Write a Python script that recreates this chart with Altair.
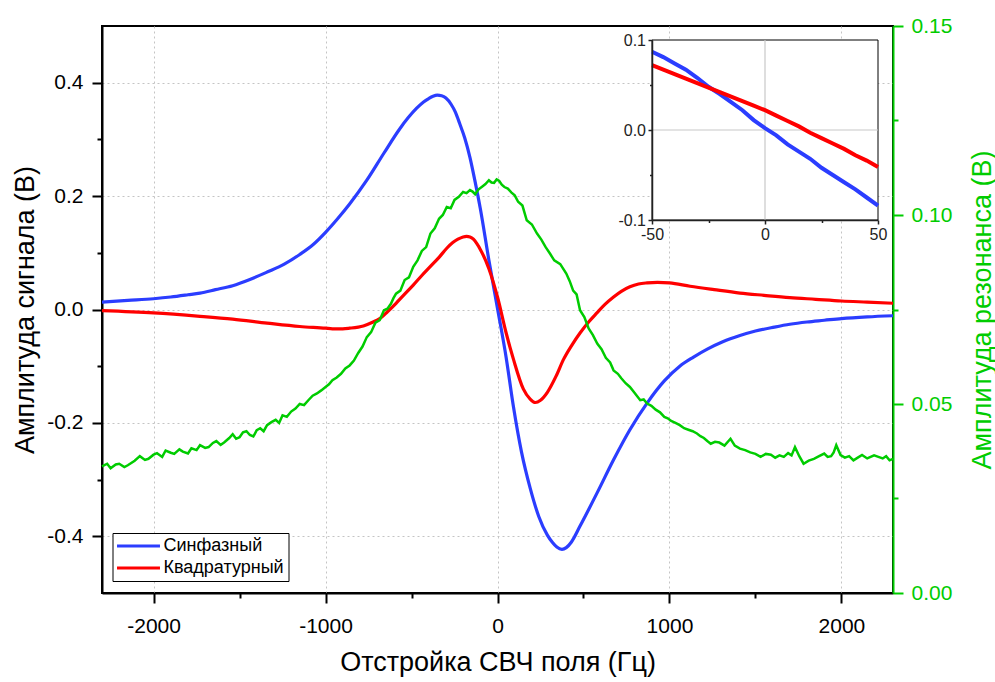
import altair as alt
import pandas as pd

series_names = ["Синфазный", "Квадратурный"]

blue_x = [-2300, -2150, -2000, -1900, -1800, -1730, -1640, -1540, -1440, -1340, -1240, -1150,
          -1070, -1000, -930, -860, -760, -660, -570, -520, -470, -430, -400, -375, -350, -325,
          -300, -270, -245, -220, -190, -160, -130, -100, -50, 0, 50, 93, 140, 190, 240, 290,
          320, 345, 375, 400, 430, 480, 580, 675, 770, 870, 970, 1060, 1140, 1220, 1310, 1410,
          1500, 1610, 1700, 1800, 1900, 2000, 2150, 2300]
blue_y = [0.013, 0.016, 0.019, 0.022, 0.026, 0.029, 0.035, 0.042, 0.053, 0.066, 0.080, 0.097,
          0.115, 0.136, 0.160, 0.186, 0.228, 0.276, 0.318, 0.338, 0.355, 0.366, 0.372, 0.376,
          0.378, 0.377, 0.373, 0.362, 0.348, 0.328, 0.302, 0.268, 0.225, 0.178, 0.087, 0.002,
          -0.084, -0.172, -0.252, -0.315, -0.365, -0.398, -0.411, -0.419, -0.423, -0.420, -0.410,
          -0.382, -0.323, -0.265, -0.212, -0.165, -0.126, -0.100, -0.084, -0.070, -0.057, -0.046,
          -0.038, -0.031, -0.026, -0.022, -0.019, -0.016, -0.013, -0.011]

red_x = [-2300, -2000, -1730, -1540, -1340, -1150, -1000, -960, -900, -860, -780, -730, -680,
         -640, -590, -540, -490, -440, -390, -340, -295, -260, -230, -200, -180, -160, -140, -120,
         -100, -50, 0, 50, 93, 150, 190, 220, 250, 290, 340, 384, 430, 481, 530, 578, 625, 675,
         720, 770, 820, 870, 930, 1000, 1120, 1260, 1410, 1550, 1700, 1850, 2000, 2150, 2300]
red_y = [-0.002, -0.006, -0.012, -0.017, -0.024, -0.030, -0.033, -0.034, -0.034, -0.033, -0.029,
         -0.023, -0.015, -0.004, 0.011, 0.027, 0.043, 0.060, 0.076, 0.092, 0.108, 0.118, 0.124,
         0.128, 0.129, 0.128, 0.124, 0.116, 0.106, 0.072, 0.022, -0.041, -0.088, -0.140, -0.158,
         -0.164, -0.160, -0.146, -0.118, -0.088, -0.064, -0.041, -0.022, -0.006, 0.009, 0.022,
         0.032, 0.040, 0.045, 0.047, 0.048, 0.047, 0.041, 0.035, 0.029, 0.025, 0.021, 0.018,
         0.015, 0.013, 0.011]

green_x = [-2300, -2270, -2250, -2220, -2200, -2170, -2150, -2110, -2080, -2050, -2030, -2000,
           -1980, -1950, -1930, -1900, -1880, -1850, -1830, -1800, -1780, -1750, -1730, -1700,
           -1680, -1655, -1635, -1610, -1590, -1560, -1540, -1520, -1500, -1480, -1460, -1440,
           -1420, -1400, -1380, -1360, -1340, -1315, -1290, -1270, -1250, -1225, -1200, -1175,
           -1150, -1125, -1100, -1075, -1050, -1025, -1000, -980, -960, -935, -910, -885, -860,
           -835, -810, -785, -760, -735, -710, -685, -660, -640, -620, -605, -590, -565, -540,
           -515, -490, -465, -440, -415, -390, -365, -340, -318, -295, -272, -250, -225, -200,
           -180, -160, -145, -130, -110, -90, -70, -50, -35, -20, -5, 10, 25, 40, 60, 80, 100,
           120, 145, 170, 200, 230, 255, 280, 305, 330, 365, 400, 420, 440, 460, 480, 505, 530,
           555, 580, 605, 630, 655, 675, 700, 720, 745, 770, 800, 830, 850, 870, 895, 920, 945,
           970, 990, 1010, 1035, 1060, 1085, 1110, 1135, 1160, 1180, 1200, 1220, 1240, 1265, 1290,
           1320, 1355, 1380, 1410, 1440, 1470, 1500, 1530, 1560, 1590, 1615, 1640, 1665, 1690,
           1710, 1730, 1755, 1780, 1810, 1840, 1870, 1900, 1920, 1940, 1955, 1970, 1995, 2020,
           2045, 2070, 2095, 2120, 2150, 2190, 2215, 2240, 2260, 2280, 2300]
green_y = [0.0335, 0.0342, 0.0330, 0.0340, 0.0342, 0.0333, 0.0338, 0.0350, 0.0362, 0.0352,
           0.0355, 0.0366, 0.0370, 0.0360, 0.0377, 0.0371, 0.0368, 0.0380, 0.0374, 0.0369,
           0.0383, 0.0378, 0.0391, 0.0384, 0.0386, 0.0397, 0.0402, 0.0392, 0.0398, 0.0410,
           0.0420, 0.0408, 0.0412, 0.0425, 0.0428, 0.0418, 0.0414, 0.0431, 0.0436, 0.0428,
           0.0444, 0.0452, 0.0458, 0.0450, 0.0470, 0.0466, 0.0480, 0.0488, 0.0500, 0.0497,
           0.0510, 0.0522, 0.0528, 0.0536, 0.0545, 0.0552, 0.0563, 0.0570, 0.0580, 0.0594,
           0.0602, 0.0615, 0.0635, 0.0652, 0.0677, 0.0690, 0.0715, 0.0722, 0.0748, 0.0752,
           0.0765, 0.0780, 0.0792, 0.0800, 0.0828, 0.0835, 0.0863, 0.0880, 0.0905, 0.0915,
           0.0951, 0.0965, 0.0990, 0.1000, 0.1021, 0.1018, 0.1040, 0.1048, 0.1061, 0.1058,
           0.1066, 0.1062, 0.1055, 0.1068, 0.1075, 0.1082, 0.1092, 0.1086, 0.1085, 0.1094,
           0.1090, 0.1080, 0.1074, 0.1070, 0.1060, 0.1052, 0.1035, 0.1025, 0.0986, 0.0975,
           0.0951, 0.0935, 0.0915, 0.0898, 0.0880, 0.0870, 0.0845, 0.0825, 0.0800, 0.0790,
           0.0748, 0.0730, 0.0700, 0.0682, 0.0660, 0.0645, 0.0622, 0.0610, 0.0589, 0.0580,
           0.0568, 0.0555, 0.0545, 0.0528, 0.0510, 0.0512, 0.0501, 0.0495, 0.0485, 0.0478,
           0.0466, 0.0462, 0.0455, 0.0450, 0.0444, 0.0436, 0.0432, 0.0428, 0.0422, 0.0415,
           0.0410, 0.0402, 0.0395, 0.0400, 0.0398, 0.0390, 0.0408, 0.0390, 0.0382, 0.0378,
           0.0372, 0.0368, 0.0360, 0.0368, 0.0366, 0.0358, 0.0364, 0.0360, 0.0370, 0.0364,
           0.0386, 0.0362, 0.0342, 0.0350, 0.0355, 0.0362, 0.0369, 0.0360, 0.0362, 0.0372,
           0.0391, 0.0365, 0.0358, 0.0362, 0.0351, 0.0358, 0.0365, 0.0356, 0.0364, 0.0360,
           0.0356, 0.0362, 0.0351, 0.0355]

inset_x = [-50, -45, -40, -35, -30, -25, -20, -15, -10, -5, 0, 5, 10, 15, 20, 25, 30, 35, 40, 45, 50]
inset_blue = [0.087, 0.081, 0.074, 0.067, 0.058, 0.048, 0.040, 0.031, 0.022, 0.011, 0.002,
              -0.006, -0.016, -0.024, -0.032, -0.042, -0.050, -0.058, -0.066, -0.075, -0.084]
inset_red = [0.072, 0.067, 0.062, 0.057, 0.052, 0.047, 0.042, 0.037, 0.032, 0.027, 0.022,
             0.016, 0.010, 0.004, -0.003, -0.009, -0.015, -0.021, -0.028, -0.034, -0.041]

x_domain = [-2300, 2300]
x_ticks = [-2000, -1500, -1000, -500, 0, 500, 1000, 1500, 2000]
y_left_domain = [-0.5, 0.5]
y_left_ticks = [-0.4, -0.3, -0.2, -0.1, 0.0, 0.1, 0.2, 0.3, 0.4]
y_right_domain = [0.0, 0.15]
y_right_ticks = [0.0, 0.025, 0.05, 0.075, 0.1, 0.125, 0.15]
inset_x_domain = [-50, 50]
inset_x_ticks = [-50, -25, 0, 25, 50]
inset_y_domain = [-0.1, 0.1]
inset_y_ticks = [-0.1, -0.05, 0.0, 0.05, 0.1]

x_title = "Отстройка СВЧ поля (Гц)"
y_left_title = "Амплитуда сигнала (В)"
y_right_title = "Амплитуда резонанса (В)"

BLUE = "#2b3dff"
RED = "#ff0000"
GREEN = "#00cc00"
FONT = "Liberation Sans"
W, H = 791, 567
MINUS = "\u2212"


def cond(test, a, b):
    return {"condition": {"test": test, "value": a}, "value": b}


def lab(test):
    return f"({test}) ? replace(datum.label, '{MINUS}', '-') : ''"


main_df = pd.concat([
    pd.DataFrame({"x": blue_x, "y": blue_y, "s": series_names[0]}),
    pd.DataFrame({"x": red_x, "y": red_y, "s": series_names[1]}),
])
green_df = pd.DataFrame({"x": green_x, "y": green_y})
inset_df = pd.DataFrame({"ix": inset_x, "b": inset_blue, "r": inset_red})
box_df = pd.DataFrame({"x0": [inset_x_domain[0]], "x1": [inset_x_domain[1]],
                       "y0": [inset_y_domain[0]], "y1": [inset_y_domain[1]], "z": [0]})

xs = alt.Scale(domain=x_domain, nice=False, zero=False)
yls = alt.Scale(domain=y_left_domain, nice=False, zero=False)
yrs = alt.Scale(domain=y_right_domain, nice=False, zero=False)
ixs = alt.Scale(domain=inset_x_domain, nice=False, zero=False, range=[550, 776])
iys = alt.Scale(domain=inset_y_domain, nice=False, zero=False, range=[194, 14])

tx = "datum.value % 1000 === 0"
x_axis = alt.Axis(
    orient="bottom", values=x_ticks, format="d", labelExpr=lab(tx),
    tickSize=cond(tx, 10, 5), tickWidth=2, tickColor="black",
    domainColor="black", domainWidth=2,
    labelFontSize=21, labelColor="black", labelPadding=12, labelFlush=False, labelOverlap=False,
    grid=True, gridDash=[2, 3], gridColor="#c4c4c4", gridWidth=1, gridOpacity=cond(tx, 1, 0),
    title=x_title, titleFontSize=27, titleFontWeight="normal", titleColor="black",
    titleBaseline="alphabetic", titleY=77,
)

tl = "abs(round(datum.value * 10)) % 2 === 0"
yl_axis = alt.Axis(
    orient="left", values=y_left_ticks, format=".1f", labelExpr=lab(tl),
    tickSize=cond(tl, 10, 5), tickWidth=2, tickColor="black",
    domainColor="black", domainWidth=2,
    labelFontSize=21, labelColor="black", labelPadding=9, labelFlush=False, labelOverlap=False,
    grid=True, gridDash=[2, 3], gridColor="#c4c4c4", gridWidth=1, gridOpacity=cond(tl, 1, 0),
    title=y_left_title, titleFontSize=27, titleFontWeight="normal", titleColor="black",
    titleBaseline="alphabetic", titleX=-69,
)

tr = "round(datum.value * 1000) % 50 === 0"
yr_axis = alt.Axis(
    orient="right", values=y_right_ticks, format=".2f", labelExpr=lab(tr),
    tickSize=cond(tr, 10, 5), tickWidth=2, tickColor=GREEN,
    domainColor=GREEN, domainWidth=2,
    labelFontSize=21, labelColor=GREEN, labelPadding=8, labelFlush=False, labelOverlap=False,
    grid=False,
    title=y_right_title, titleFontSize=27, titleFontWeight="normal", titleColor=GREEN,
    titleAngle=270, titleBaseline="alphabetic", titleX=97,
)

tix = "datum.value % 50 === 0"
ix_axis = alt.Axis(
    orient="bottom", offset=-373, values=inset_x_ticks, format="d", labelExpr=lab(tix),
    tickSize=cond(tix, 4, 2.5), tickWidth=1.5, tickColor="#222222",
    domainColor="#222222", domainWidth=1.5,
    labelFontSize=16, labelColor="#222222", labelPadding=2, labelFlush=False, labelOverlap=False,
    grid=False, title=None, zindex=1,
)

tiy = "abs(round(datum.value * 100)) % 10 === 0"
iy_axis = alt.Axis(
    orient="left", offset=-550, values=inset_y_ticks, format=".1f", labelExpr=lab(tiy),
    tickSize=cond(tiy, 4, 2.5), tickWidth=1.5, tickColor="#222222",
    domainColor="#222222", domainWidth=1.5,
    labelFontSize=16, labelColor="#222222", labelPadding=2.5, labelFlush=False, labelOverlap=False,
    grid=False, title=None, zindex=1,
)

legend = alt.Legend(
    title=None, orient="none", legendX=10.5, legendY=507,
    strokeColor="black", fillColor="white", padding=4, cornerRadius=0,
    symbolType="M-3,0H3", symbolSize=205, symbolStrokeWidth=3,
    symbolOffset=13, labelOffset=16,
    labelFont=FONT, labelFontSize=18, labelColor="black", rowPadding=4,
)

main_lines = alt.Chart(main_df).mark_line(strokeWidth=3.2, interpolate="monotone").encode(
    x=alt.X("x:Q", scale=xs, axis=x_axis),
    y=alt.Y("y:Q", scale=yls, axis=yl_axis),
    color=alt.Color("s:N", scale=alt.Scale(domain=series_names, range=[BLUE, RED]),
                    legend=legend),
    detail="s:N",
)

green_line = alt.Chart(green_df).mark_line(strokeWidth=2.5, color=GREEN).encode(
    x=alt.X("x:Q", scale=xs, axis=None),
    y=alt.Y("y:Q", scale=yrs, axis=yr_axis),
)

inset_box = alt.Chart(box_df).mark_rect(fill="white", stroke="black", strokeWidth=1).encode(
    x=alt.X("x0:Q", scale=ixs, axis=ix_axis),
    x2="x1:Q",
    y=alt.Y("y0:Q", scale=iys, axis=iy_axis),
    y2="y1:Q",
)

inset_vzero = alt.Chart(box_df).mark_rule(color="#c8c8c8", strokeWidth=1.2).encode(
    x=alt.X("z:Q", scale=ixs, axis=None),
    y=alt.Y("y0:Q", scale=iys, axis=None),
    y2="y1:Q",
)
inset_hzero = alt.Chart(box_df).mark_rule(color="#c8c8c8", strokeWidth=1.2).encode(
    y=alt.Y("z:Q", scale=iys, axis=None),
    x=alt.X("x0:Q", scale=ixs, axis=None),
    x2="x1:Q",
)

inset_blue_line = alt.Chart(inset_df).mark_line(strokeWidth=4, color=BLUE).encode(
    x=alt.X("ix:Q", scale=ixs, axis=None),
    y=alt.Y("b:Q", scale=iys, axis=None),
)
inset_red_line = alt.Chart(inset_df).mark_line(strokeWidth=4, color=RED).encode(
    x=alt.X("ix:Q", scale=ixs, axis=None),
    y=alt.Y("r:Q", scale=iys, axis=None),
)

chart = alt.layer(
    main_lines, green_line, inset_box, inset_vzero, inset_hzero, inset_blue_line, inset_red_line
).resolve_scale(
    x="independent", y="independent"
).properties(
    width=W, height=H,
    autosize=alt.AutoSizeParams(type="none"),
    padding={"left": 102, "top": 26, "right": 102, "bottom": 89},
).configure(
    font=FONT
).configure_view(
    stroke="black", strokeWidth=2
)

chart.save("out.html", embed_options={"renderer": "svg", "actions": False})
